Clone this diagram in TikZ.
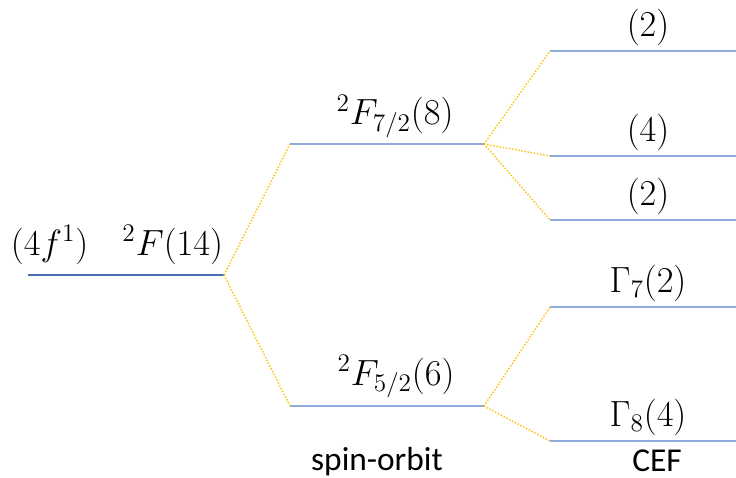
\documentclass[tikz,border=0pt]{standalone}
\usepackage{fontspec}
\newfontfamily\capfont{Carlito}
\usetikzlibrary{positioning}
\definecolor{lvlblue}{HTML}{8FAADC}
\definecolor{lvldark}{HTML}{4A6FB0}
\definecolor{splitorange}{HTML}{FFC000}
\begin{document}
\begin{tikzpicture}[x=0.02cm,y=-0.02cm,
  level/.style={lvlblue,line width=0.9pt},
  split/.style={splitorange,densely dotted,line width=0.8pt},
  lab/.style={font=\fontsize{19.5}{22}\selectfont,inner sep=0pt},
  steplab/.style={font=\capfont\fontsize{19}{22}\selectfont,anchor=base,inner sep=0pt}]
\useasboundingbox (0,0) rectangle (736,477);
% free ion
\coordinate (ionL) at (28,275); \coordinate (ionR) at (224,275);
\draw[level,lvldark] (ionL) -- (ionR);
\coordinate (ionM) at (117,275);
\node[lab,above=6pt of ionM] (ionlab) {$(4f^1)\quad{}^2F(14)$};
% spin-orbit
\coordinate (jaL) at (290,144); \coordinate (jaR) at (484,144);
\coordinate (jbL) at (290,406); \coordinate (jbR) at (484,406);
\draw[level] (jaL) -- (jaR); \draw[level] (jbL) -- (jbR);
\coordinate (jaM) at (395,144); \coordinate (jbM) at (396,406);
\node[lab,above=3.5pt of jaM] (jalab) {${}^2F_{7/2}(8)$};
\node[lab,above=4.5pt of jbM] (jblab) {${}^2F_{5/2}(6)$};
% CEF
\foreach \n/\y in {c1/51,c2/156,c3/220,c4/307,c5/441}{
  \coordinate (\n L) at (550,\y); \coordinate (\n R) at (736,\y);
  \coordinate (\n M) at (648,\y);
  \draw[level] (\n L) -- (\n R);
}
\node[lab,above=3pt of c1M] (c1lab) {$(2)$};
\node[lab,above=3pt of c2M] (c2lab) {$(4)$};
\node[lab,above=3pt of c3M] (c3lab) {$(2)$};
\node[lab,above=3pt of c4M] (c4lab) {$\Gamma_7(2)$};
\node[lab,above=3pt of c5M] (c5lab) {$\Gamma_8(4)$};
% splittings
\draw[split] (ionR) -- (jaL); \draw[split] (ionR) -- (jbL);
\foreach \n in {c1,c2,c3} \draw[split] (jaR) -- (\n L);
\foreach \n in {c4,c5} \draw[split] (jbR) -- (\n L);
\node[steplab] (solab) at (377,470) {spin-orbit};
\node[steplab] (ceflab) at (657,471) {CEF};
\end{tikzpicture}
\end{document}
